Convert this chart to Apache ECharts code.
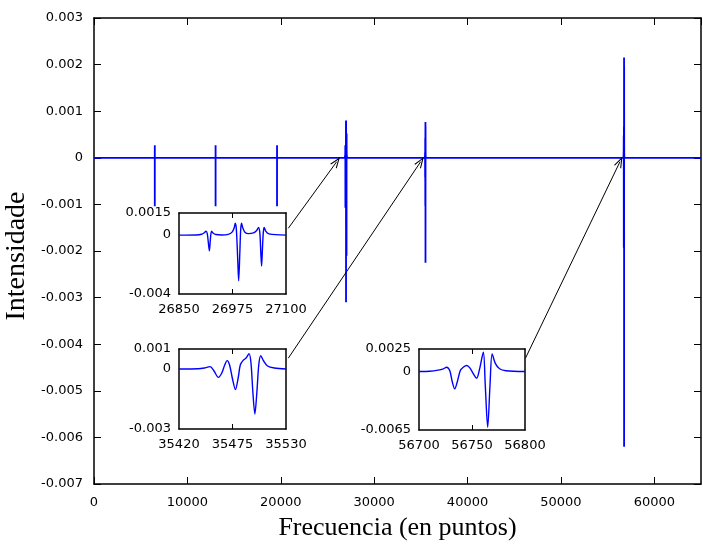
<!DOCTYPE html>
<html>
<head>
<meta charset="utf-8">
<script src="https://cdn.jsdelivr.net/npm/echarts@6/dist/echarts.min.js"></script>
<style>html,body{margin:0;padding:0;background:#fff;}#c{width:703px;height:544px;}</style>
</head>
<body>
<div id="c"></div>
<script>
// ---- Data ----
const smallPeakCenters = [6510, 13020, 19600];
const smallPeakOffsets = [-3, -1, 0, 1, 3];
const smallPeakValues = [0, 0.00027, -0.00104, 0.00027, 0];

const inset1X = [26850,26890,26903,26909,26913,26916,26918.5,26921,26923,26926,26930,26936,26950,
  26965,26974,26979,26981.5,26984,26987,26989.4,26992,26994,26996,26999,27004,27012,
  27024,27031,27036,27039,27041,27043,27045,27047,27049,27053,27060,27100];
const inset1Y = [0,0.00001,0.00006,0.00016,0.00027,0.0001,-0.0005,-0.00107,-0.0004,0.00027,0.00012,0.00004,0.00001,
  0.00005,0.0002,0.0005,0.0008,0.0004,-0.0015,-0.0031,-0.0013,0.0003,0.0008,0.0005,0.0002,0.0001,
  0.00015,0.0003,0.00052,0.0001,-0.0011,-0.0021,-0.0009,0.0002,0.00052,0.00025,0.00008,0];

const inset2X = [35420,35440,35446,35452,35456,35460.5,35464,35467,35469.5,35472,35475,35478,35481,35483,
  35485.7,35489,35492,35494,35496,35498,35500,35502,35504,35507,35511,35518,35530];
const inset2Y = [0,0.00001,0.00005,0.00012,-0.0001,-0.00042,-0.0002,0.0002,0.00042,0.0002,-0.0005,-0.00103,-0.0004,0.0002,
  0.00042,0.00055,0.00077,0.0003,-0.0012,-0.00225,-0.0012,0.0002,0.00067,0.0004,0.00015,0.00005,0];

const inset3X = [56700,56710,56718,56723,56726,56729,56731.5,56733.7,56736,56739,56742,56745,56748,56751,
  56754.4,56757,56760.7,56762.5,56764.8,56767,56769,56772,56776,56782,56800];
const inset3Y = [0,0.00003,0.00015,0.0003,0.00048,0.0001,-0.0012,-0.00193,-0.0012,0.0001,0.0005,0.00067,0.0004,-0.0002,
  -0.00074,0.0002,0.00215,-0.0015,-0.0062,-0.0015,0.00196,0.0009,0.0003,0.00008,0];

const mainXRange = [0, 65000];
const mainYRange = [-0.007, 0.003];

const inset1XTicks = [26850, 26975, 27100];
const inset1YTicks = [-0.004, 0, 0.0015];
const inset2XTicks = [35420, 35475, 35530];
const inset2YTicks = [-0.003, 0, 0.001];
const inset3XTicks = [56700, 56750, 56800];
const inset3YTicks = [-0.0065, 0, 0.0025];

// arrows: [fromX, fromY, toX, toY] in main-axis coordinates
const arrows = [
  [20806, -0.001513, 25988, -0.000084],
  [20806, -0.0043, 34983, -0.000084],
  [46205, -0.0043, 56324, -0.000084]
];

// ---- Build ----
const zip = (xs, ys) => xs.map((x, i) => [x, ys[i]]);
const mainData = [[mainXRange[0], 0]];
smallPeakCenters.forEach(c => smallPeakOffsets.forEach((o, i) => mainData.push([c + o, smallPeakValues[i]])));
mainData.push(...zip(inset1X, inset1Y), ...zip(inset2X, inset2Y), ...zip(inset3X, inset3Y));
mainData.push([mainXRange[1], 0]);

const tickFont = { fontFamily: 'DejaVu Sans', fontSize: 13, color: '#000' };
const lineBlack = { show: true, onZero: false, lineStyle: { color: '#000', width: 1.5 } };
const fmtY = v => String(parseFloat((+v).toFixed(5)));

function insetAxes(gi, xt, yt) {
  const xa = {
    gridIndex: gi, type: 'value', min: xt[0], max: xt[2], position: 'bottom',
    axisLine: lineBlack, splitLine: { show: false },
    axisTick: { show: true, inside: true, length: 5, customValues: [xt[1]], lineStyle: { color: '#000' } },
    axisLabel: Object.assign({ show: true, margin: 9, customValues: xt, formatter: v => String(v) }, tickFont)
  };
  const xb = {
    gridIndex: gi, type: 'value', min: xt[0], max: xt[2], position: 'top',
    axisLine: lineBlack, splitLine: { show: false },
    axisTick: { show: true, inside: true, length: 5, customValues: [xt[1]], lineStyle: { color: '#000' } },
    axisLabel: { show: false }
  };
  const ya = {
    gridIndex: gi, type: 'value', min: yt[0], max: yt[2], position: 'left',
    axisLine: lineBlack, splitLine: { show: false }, axisTick: { show: false },
    axisLabel: Object.assign({ show: true, margin: 8, customValues: yt, formatter: v => fmtY(v) }, tickFont)
  };
  const yb = {
    gridIndex: gi, type: 'value', min: yt[0], max: yt[2], position: 'right',
    axisLine: lineBlack, splitLine: { show: false }, axisTick: { show: false }, axisLabel: { show: false }
  };
  return [[xa, xb], [ya, yb]];
}

const a1 = insetAxes(1, inset1XTicks, inset1YTicks);
const a2 = insetAxes(2, inset2XTicks, inset2YTicks);
const a3 = insetAxes(3, inset3XTicks, inset3YTicks);

const mainTick = { show: true, inside: true, length: 7, lineStyle: { color: '#000', width: 1 } };
const gridBase = { containLabel: false, outerBoundsMode: 'none' };

const option = {
  animation: false,
  backgroundColor: '#fff',
  grid: [
    Object.assign({ left: 94, right: 2, top: 18, bottom: 60 }, gridBase),
    Object.assign({ left: 179, top: 213, width: 107, height: 81, show: true, backgroundColor: '#fff', borderWidth: 0 }, gridBase),
    Object.assign({ left: 179, top: 349, width: 107, height: 80, show: true, backgroundColor: '#fff', borderWidth: 0 }, gridBase),
    Object.assign({ left: 419, top: 349, width: 106, height: 81, show: true, backgroundColor: '#fff', borderWidth: 0 }, gridBase)
  ],
  xAxis: [
    { gridIndex: 0, type: 'value', min: mainXRange[0], max: mainXRange[1], interval: 10000, position: 'bottom',
      axisLine: lineBlack, splitLine: { show: false }, axisTick: mainTick,
      axisLabel: Object.assign({ margin: 12, showMaxLabel: false, formatter: v => String(v) }, tickFont),
      name: 'Frecuencia (en puntos)', nameLocation: 'middle', nameGap: 31,
      nameTextStyle: { fontFamily: 'Liberation Serif', fontSize: 26, color: '#000' } },
    { gridIndex: 0, type: 'value', min: mainXRange[0], max: mainXRange[1], interval: 10000, position: 'top',
      axisLine: lineBlack, splitLine: { show: false }, axisTick: mainTick, axisLabel: { show: false } },
    ...a1[0], ...a2[0], ...a3[0]
  ],
  yAxis: [
    { gridIndex: 0, type: 'value', min: mainYRange[0], max: mainYRange[1], interval: 0.001, position: 'left',
      axisLine: lineBlack, splitLine: { show: false }, axisTick: mainTick,
      axisLabel: Object.assign({ margin: 11, formatter: v => fmtY(v) }, tickFont),
      name: 'Intensidade', nameLocation: 'middle', nameGap: 56,
      nameTextStyle: { fontFamily: 'Liberation Serif', fontSize: 28, color: '#000', padding: [0, 10, 0, 0] } },
    { gridIndex: 0, type: 'value', min: mainYRange[0], max: mainYRange[1], interval: 0.001, position: 'right',
      axisLine: lineBlack, splitLine: { show: false }, axisTick: mainTick, axisLabel: { show: false } },
    ...a1[1], ...a2[1], ...a3[1]
  ],
  series: [
    { type: 'line', xAxisIndex: 0, yAxisIndex: 0, data: mainData, showSymbol: false, symbol: 'none',
      lineStyle: { color: '#0000ff', width: 1.8 }, silent: true, z: 3,
      markLine: {
        silent: true, animation: false,
        symbol: ['none', 'path://M5,0 L10,12 L8.6,12 L5,3.2 L1.4,12 L0,12 Z'], symbolSize: [8, 11],
        lineStyle: { color: '#000', width: 1, type: 'solid' },
        itemStyle: { color: '#000' },
        label: { show: false }, emphasis: { disabled: true },
        data: arrows.map(a => [{ coord: [a[0], a[1]] }, { coord: [a[2], a[3]] }])
      } },
    { type: 'line', xAxisIndex: 2, yAxisIndex: 2, data: zip(inset1X, inset1Y), showSymbol: false, symbol: 'none',
      smooth: 0.3, lineStyle: { color: '#0000ff', width: 1.4 }, silent: true },
    { type: 'line', xAxisIndex: 4, yAxisIndex: 4, data: zip(inset2X, inset2Y), showSymbol: false, symbol: 'none',
      smooth: 0.3, lineStyle: { color: '#0000ff', width: 1.4 }, silent: true },
    { type: 'line', xAxisIndex: 6, yAxisIndex: 6, data: zip(inset3X, inset3Y), showSymbol: false, symbol: 'none',
      smooth: 0.3, lineStyle: { color: '#0000ff', width: 1.4 }, silent: true }
  ]
};

const chart = echarts.init(document.getElementById('c'), null, { renderer: 'canvas' });
chart.setOption(option);
</script>
</body>
</html>
